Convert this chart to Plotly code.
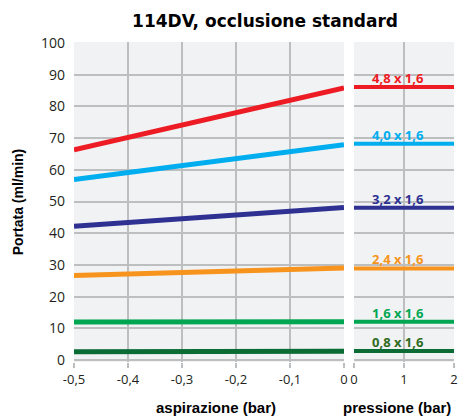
import plotly.graph_objects as go

# ---- data ----
series_labels = ["4,8 x 1,6", "4,0 x 1,6", "3,2 x 1,6", "2,4 x 1,6", "1,6 x 1,6", "0,8 x 1,6"]
colors = ["#ed1c24", "#00aeef", "#2e3192", "#f7941d", "#00a651", "#0b6b35"]
label_colors = ["#ed1c24", "#00aeef", "#2e3192", "#f7941d", "#00a651", "#2f6b1e"]
suction_x = [-0.5, 0.0]
suction_vals = [
    [66.3, 85.8],
    [56.9, 67.9],
    [42.2, 48.1],
    [26.7, 29.0],
    [12.0, 12.1],
    [2.6, 2.8],
]
pressure_x = [0, 2]
pressure_vals = [86.1, 68.2, 48.0, 28.9, 12.1, 2.9]

x_left_ticks = [-0.5, -0.4, -0.3, -0.2, -0.1, 0]
x_left_text = ["-0,5", "-0,4", "-0,3", "-0,2", "-0,1", "0"]
x_right_ticks = [0, 1, 2]
y_ticks = [0, 10, 20, 30, 40, 50, 60, 70, 80, 90, 100]

W, H = 459, 417
L, T, PW, PH = 74, 42, 380, 320

fig = go.Figure()
for lab, c, vals in zip(series_labels, colors, suction_vals):
    fig.add_trace(go.Scatter(x=suction_x, y=vals, mode="lines", line=dict(color=c, width=5),
                             xaxis="x", yaxis="y", showlegend=False, hoverinfo="skip", name=lab))
for lab, c, v in zip(series_labels, colors, pressure_vals):
    fig.add_trace(go.Scatter(x=pressure_x, y=[v, v], mode="lines", line=dict(color=c, width=4),
                             xaxis="x2", yaxis="y2", showlegend=False, hoverinfo="skip", name=lab))

grid = "#bcbec0"
tickfont = dict(family="Open Sans", size=14, color="#231f20")
xtickfont = dict(family="Open Sans", size=13, color="#231f20")
common_y = dict(range=[-0.6, 100.3], tickvals=y_ticks, showgrid=True, gridcolor=grid, gridwidth=2,
                zeroline=False, showline=False, fixedrange=True, automargin=False)
fig.update_layout(
    width=W, height=H,
    margin=dict(l=L, r=W - L - PW, t=T, b=H - T - PH, autoexpand=False),
    paper_bgcolor="white", plot_bgcolor="white",
    title=dict(text="<b>114DV, occlusione standard</b>", x=265 / W, xanchor="center",
               y=1 - 21 / H, yanchor="middle",
               font=dict(family="DejaVu Sans", size=17, color="#000")),
    xaxis=dict(domain=[0, 270 / 380], range=[-0.5, 0], tickvals=x_left_ticks, ticktext=x_left_text,
               showgrid=True, gridcolor=grid, gridwidth=2, zeroline=False, ticks="outside",
               ticklen=5, tickcolor=grid, tickwidth=2, tickfont=xtickfont, anchor="y",
               automargin=False, ticklabeloverflow="allow"),
    xaxis2=dict(domain=[280 / 380, 1], range=[0, 2], tickvals=x_right_ticks,
                showgrid=True, gridcolor=grid, gridwidth=2, zeroline=False, ticks="outside",
                ticklen=5, tickcolor=grid, tickwidth=2, tickfont=xtickfont, anchor="y2",
                automargin=False, ticklabeloverflow="allow"),
    yaxis=dict(**common_y, tickfont=tickfont, ticklabelstandoff=8, anchor="x",
               title=dict(text="<b>Portata (ml/min)</b>", standoff=14,
                          font=dict(family="Liberation Sans", size=14, color="#000"))),
    yaxis2=dict(**common_y, showticklabels=False, anchor="x2", matches="y"),
)

bg = "#f1f2f4"
fig.add_shape(type="rect", xref="x domain", yref="y domain", x0=0, x1=1, y0=0, y1=1,
              fillcolor=bg, line=dict(width=0), layer="below")
fig.add_shape(type="rect", xref="x2 domain", yref="y2 domain", x0=0, x1=1, y0=0, y1=1,
              fillcolor=bg, line=dict(width=0), layer="below")

for lab, lc, v in zip(series_labels, label_colors, pressure_vals):
    fig.add_annotation(x=0.88, y=v, xref="x2", yref="y2", text="<b>" + lab + "</b>", showarrow=False,
                       yshift=9, yanchor="middle",
                       font=dict(family="Open Sans", size=13, color=lc))

titlefont = dict(family="Liberation Sans", size=15, color="#000")
fig.add_annotation(x=(216 - 74) / PW, y=-(407 - 362) / PH, xref="paper", yref="paper",
                   xanchor="center", yanchor="middle",
                   text="<b>aspirazione (bar)</b>", showarrow=False, font=titlefont)
fig.add_annotation(x=(397 - 74) / PW, y=-(407 - 362) / PH, xref="paper", yref="paper",
                   xanchor="center", yanchor="middle",
                   text="<b>pressione (bar)</b>", showarrow=False, font=titlefont)

fig.write_html("out.html", config={"displayModeBar": False},
               post_script="document.body.style.margin='0';document.body.style.overflow='hidden';")
